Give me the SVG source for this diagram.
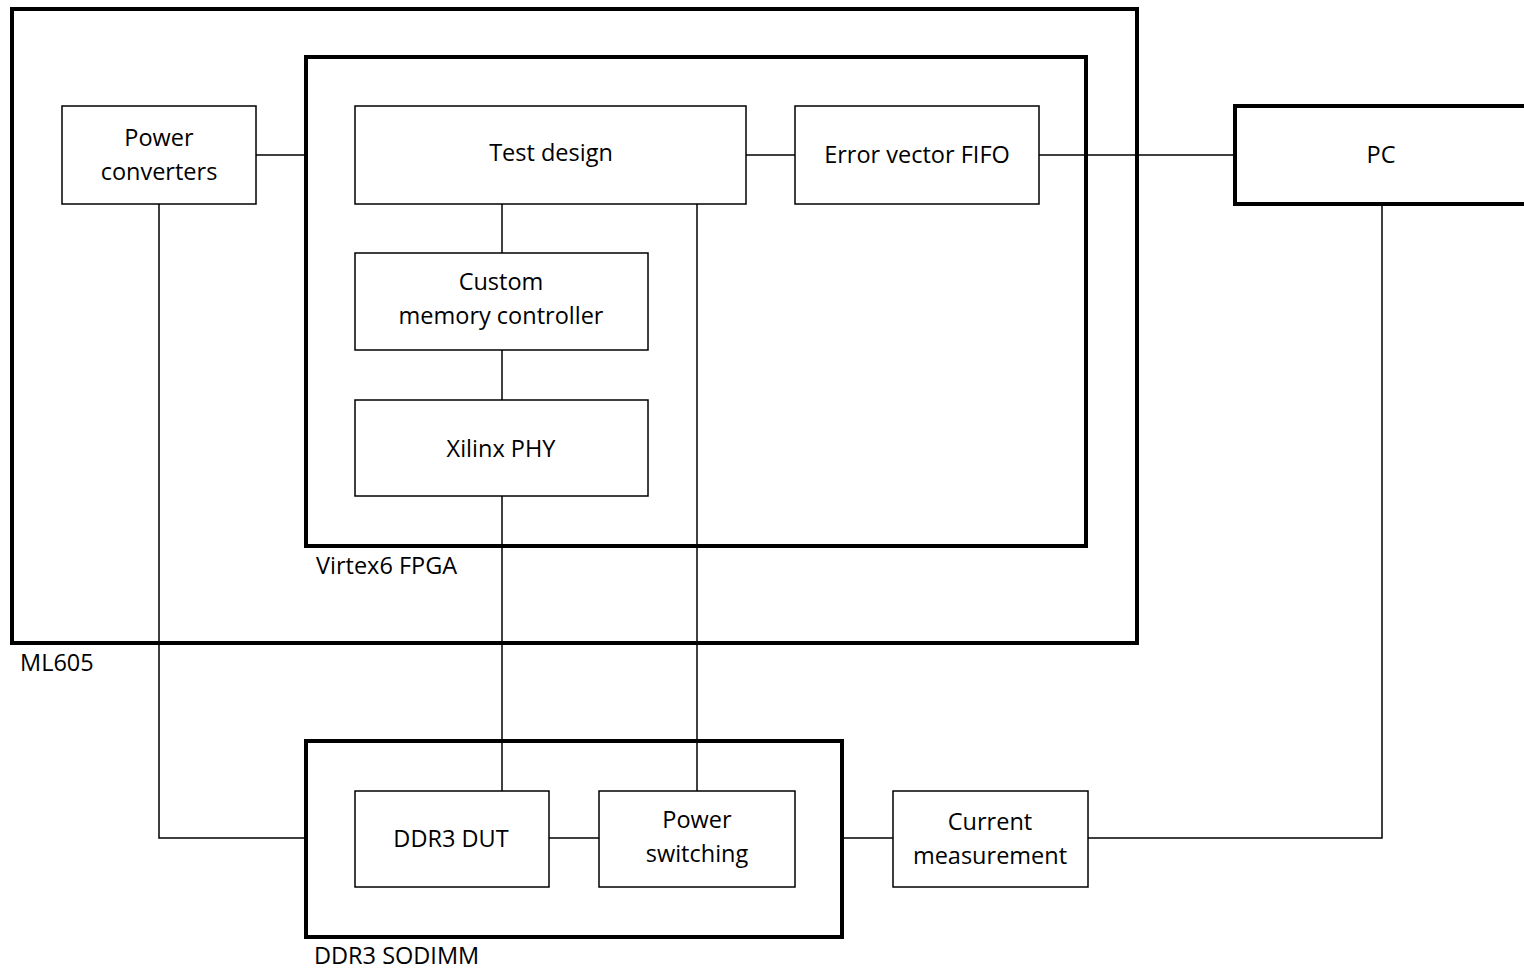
<svg xmlns="http://www.w3.org/2000/svg" width="1524" height="970" viewBox="0 0 1524 970">
<style>
.thick{fill:#fff;stroke:#000;stroke-width:4}
.box{fill:#fff;stroke:#000;stroke-width:1.5}
.lbl{font-family:"Open Sans","Noto Sans",sans-serif;font-size:23.5px;fill:#000}
.c{text-anchor:middle}
.wire{fill:none;stroke:#000;stroke-width:1.5}
</style>
<rect width="1524" height="970" fill="#fff"/>
<g id="ml605">
<rect class="thick" x="12" y="9" width="1125" height="634"/>
<text class="lbl" x="20" y="671">ML605</text>
</g>
<g id="fpga">
<rect class="thick" x="306" y="57" width="780" height="489"/>
<text class="lbl" x="316" y="574">Virtex6 FPGA</text>
</g>
<g id="sodimm">
<rect class="thick" x="306" y="741" width="536" height="196"/>
<text class="lbl" x="314" y="964">DDR3 SODIMM</text>
</g>
<g id="pc">
<rect class="thick" x="1235" y="106" width="300" height="98"/>
<text class="lbl c" x="1381" y="163">PC</text>
</g>
<g id="connectors">
<path class="wire" d="M256 155H306"/>
<path class="wire" d="M746 155H795"/>
<path class="wire" d="M1039 155H1235"/>
<path class="wire" d="M502 204V253"/>
<path class="wire" d="M502 350V400"/>
<path class="wire" d="M502 496V791"/>
<path class="wire" d="M697 204V791"/>
<path class="wire" d="M159 204V838H306"/>
<path class="wire" d="M549 838H599"/>
<path class="wire" d="M842 838H893"/>
<path class="wire" d="M1088 838H1382V204"/>
</g>
<g id="power-converters">
<rect class="box" x="62" y="106" width="194" height="98"/>
<text class="lbl c" x="159" y="146">Power</text>
<text class="lbl c" x="159" y="180">converters</text>
</g>
<g id="test-design">
<rect class="box" x="355" y="106" width="391" height="98"/>
<text class="lbl c" x="551" y="161">Test design</text>
</g>
<g id="error-fifo">
<rect class="box" x="795" y="106" width="244" height="98"/>
<text class="lbl c" x="917" y="163">Error vector FIFO</text>
</g>
<g id="custom-mc">
<rect class="box" x="355" y="253" width="293" height="97"/>
<text class="lbl c" x="501" y="290">Custom</text>
<text class="lbl c" x="501" y="324">memory controller</text>
</g>
<g id="xilinx-phy">
<rect class="box" x="355" y="400" width="293" height="96"/>
<text class="lbl c" x="501" y="457">Xilinx PHY</text>
</g>
<g id="ddr3-dut">
<rect class="box" x="355" y="791" width="194" height="96"/>
<text class="lbl c" x="451" y="847">DDR3 DUT</text>
</g>
<g id="power-switching">
<rect class="box" x="599" y="791" width="196" height="96"/>
<text class="lbl c" x="697" y="828">Power</text>
<text class="lbl c" x="697" y="862">switching</text>
</g>
<g id="current-measurement">
<rect class="box" x="893" y="791" width="195" height="96"/>
<text class="lbl c" x="990" y="830">Current</text>
<text class="lbl c" x="990" y="864">measurement</text>
</g>
</svg>
